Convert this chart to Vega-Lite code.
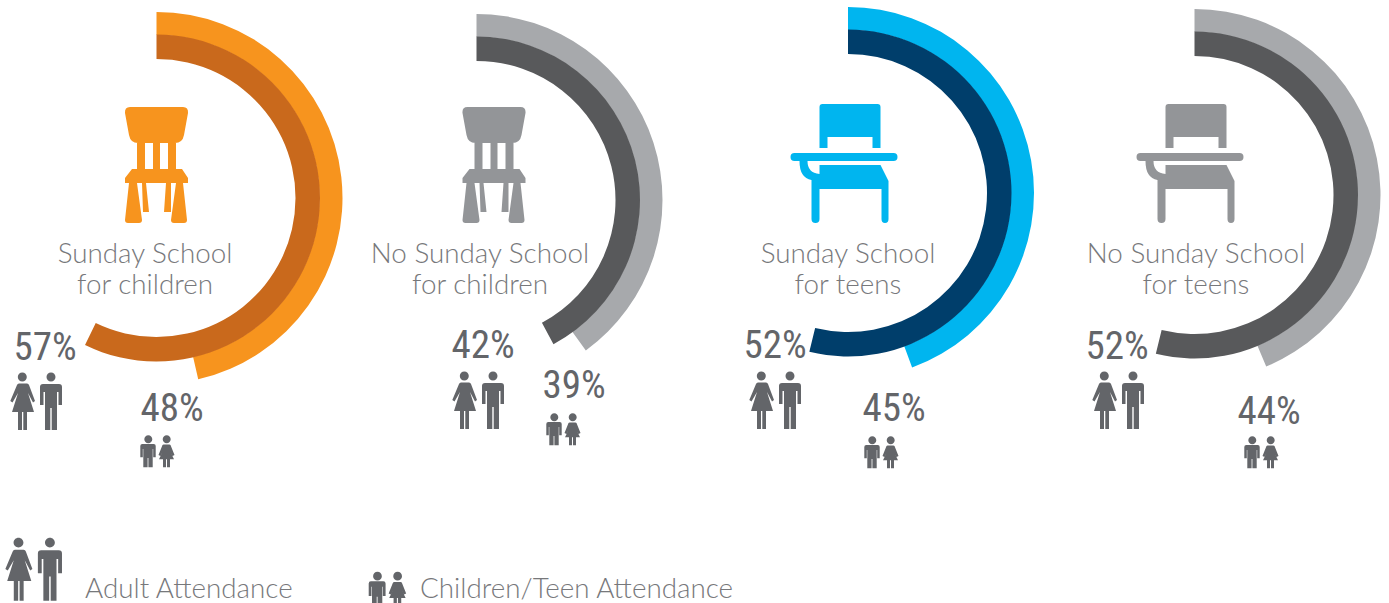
{
"$schema":"https://vega.github.io/schema/vega-lite/v6.json",
"width":1389,"height":603,"padding":0,"autosize":"none","background":"white",
"config":{"view":{"stroke":null}},
"datasets":{
"rings":[
{"panel":"Sunday School for children","idx":0,"series":"Adult","value":57.2,"key":"0A"},
{"panel":"Sunday School for children","idx":0,"series":"Child","value":46.4,"key":"0C"},
{"panel":"No Sunday School for children","idx":1,"series":"Adult","value":42.2,"key":"1A"},
{"panel":"No Sunday School for children","idx":1,"series":"Child","value":40,"key":"1C"},
{"panel":"Sunday School for teens","idx":2,"series":"Adult","value":53.8,"key":"2A"},
{"panel":"Sunday School for teens","idx":2,"series":"Child","value":44.4,"key":"2C"},
{"panel":"No Sunday School for teens","idx":3,"series":"Adult","value":53.8,"key":"3A"},
{"panel":"No Sunday School for teens","idx":3,"series":"Child","value":43.7,"key":"3C"}],
"labels":[
{"slot":0,"series":"Adult","label":"57%"},
{"slot":1,"series":"Child","label":"48%"},
{"slot":2,"series":"Adult","label":"42%"},
{"slot":3,"series":"Child","label":"39%"},
{"slot":4,"series":"Adult","label":"52%"},
{"slot":5,"series":"Child","label":"45%"},
{"slot":6,"series":"Adult","label":"52%"},
{"slot":7,"series":"Child","label":"44%"}],
"panels":[
{"idx":0,"title":"Sunday School\nfor children","icon":"chair","tone":"brand"},
{"idx":1,"title":"No Sunday School\nfor children","icon":"chair","tone":"grey"},
{"idx":2,"title":"Sunday School\nfor teens","icon":"desk","tone":"blue"},
{"idx":3,"title":"No Sunday School\nfor teens","icon":"desk","tone":"grey"}],
"legend":[
{"idx":0,"series":"Adult","label":"Adult Attendance"},
{"idx":1,"series":"Child","label":"Children/Teen Attendance"}]
},
"resolve":{"scale":{"x":"independent","y":"independent","color":"independent","shape":"independent","theta":"independent","size":"independent","radius":"independent"}},
"layer":[
{"data":{"name":"rings"},"transform":[{"filter":"datum.series==='Child'"}],
 "mark":{"type":"arc","innerRadius":163,"outerRadius":186},
 "encoding":{
  "x":{"field":"idx","type":"quantitative","axis":null,"scale":{"domain":[0,1,2,3],"range":[156.5,476.5,848,1194.5],"zero":false,"nice":false}},
  "y":{"field":"idx","type":"quantitative","axis":null,"scale":{"domain":[0,1,2,3],"range":[198,200,193,195],"zero":false,"nice":false}},
  "theta":{"field":"value","type":"quantitative","stack":null,"scale":{"domain":[0,100],"range":[0,6.28318]}},
  "theta2":{"datum":0},
  "color":{"field":"key","type":"nominal","legend":null,"scale":{"domain":["0C","1C","2C","3C"],"range":["#F7941E","#A7A9AC","#00B5EF","#A7A9AC"]}}
 }},
{"data":{"name":"rings"},"transform":[{"filter":"datum.series==='Adult'"}],
 "mark":{"type":"arc","innerRadius":139,"outerRadius":163.5},
 "encoding":{
  "x":{"field":"idx","type":"quantitative","axis":null,"scale":{"domain":[0,1,2,3],"range":[156.5,476.5,848,1194.5],"zero":false,"nice":false}},
  "y":{"field":"idx","type":"quantitative","axis":null,"scale":{"domain":[0,1,2,3],"range":[198,200,193,195],"zero":false,"nice":false}},
  "theta":{"field":"value","type":"quantitative","stack":null,"scale":{"domain":[0,100],"range":[0,6.28318]}},
  "theta2":{"datum":0},
  "color":{"field":"key","type":"nominal","legend":null,"scale":{"domain":["0A","1A","2A","3A"],"range":["#C9691C","#58595B","#003E6B","#58595B"]}}
 }},
{"data":{"name":"panels"},
 "mark":{"type":"text","font":"Lato","fontWeight":300,"fontSize":27.8,"lineBreak":"\n","lineHeight":31,"align":"center","baseline":"middle","color":"#77787B"},
 "encoding":{
  "x":{"field":"idx","type":"quantitative","axis":null,"scale":{"domain":[0,1,2,3],"range":[145,480,848,1196],"zero":false,"nice":false}},
  "y":{"field":"idx","type":"quantitative","axis":null,"scale":{"domain":[0,3],"range":[255,255],"zero":false,"nice":false}},
  "text":{"field":"title"}
 }},
{"data":{"name":"panels"},
 "mark":{"type":"point","filled":true,"opacity":1,"stroke":null},
 "encoding":{
  "x":{"field":"idx","type":"quantitative","axis":null,"scale":{"domain":[0,1,2,3],"range":[156,493.5,844.5,1190.5],"zero":false,"nice":false}},
  "y":{"field":"idx","type":"quantitative","axis":null,"scale":{"domain":[0,3],"range":[165,165],"zero":false,"nice":false}},
  "size":{"value":4},
  "shape":{"field":"icon","type":"nominal","legend":null,"scale":{"domain":["chair","desk"],"range":[
   "M-26,-58 L27,-58 Q32.5,-58 32,-52 L28,-30 Q26.5,-22 19,-22 L20,-22 L20,4 L26,4 L32,13 L32,18 L27,18 L31,55 Q31,58 28,58 L18,58 Q15,58 15,55 L20,18 L15,18 L15,47 L8,47 L10,18 L-10,18 L-7,47 L-13,47 L-14,18 L-19,18 L-14,55 Q-14,58 -17,58 L-28,58 Q-31,58 -31,55 L-27,18 L-31,18 L-31,13 L-24,4 L-19,4 L-19,-22 L-18,-22 Q-25.5,-22 -27,-30 L-31,-52 Q-31.5,-58 -26,-58 Z M-11,-22 L-11,4 L-3,4 L-3,-22 Z M4,-22 L4,4 L12,4 L12,-22 Z",
   "M-22,-61 L33,-61 Q36,-61 36,-58 L36,-17 L28,-17 L28,-28 L-17,-28 L-17,-17 L-25,-17 L-25,-58 Q-25,-61 -22,-61 Z M-50,-12 L49,-12 Q53,-12 53,-8 Q53,-4 49,-4 L-37,-4 Q-37,8 -25,9 L-25,0 L36,0 L44,16 L44,54 Q44,58 40.5,58 Q37,58 37,54 L37,24 L-25,24 L-25,54 Q-25,58 -29,58 Q-33,58 -33,54 L-33,15 Q-45,13 -45,-4 L-50,-4 Q-54,-4 -54,-8 Q-54,-12 -50,-12 Z"
  ]}},
  "color":{"field":"tone","type":"nominal","legend":null,"scale":{"domain":["brand","grey","blue"],"range":["#F7941E","#939598","#00B5EF"]}}
 }},
{"data":{"name":"labels"},
 "mark":{"type":"text","font":"Roboto Condensed, DejaVu Sans Condensed, DejaVu Sans","fontSize":39,"align":"center","baseline":"middle","color":"#636569"},
 "encoding":{
  "x":{"field":"slot","type":"quantitative","axis":null,"scale":{"domain":[0,1,2,3,4,5,6,7],"range":[45,172,483,574,775,894,1117,1269],"zero":false,"nice":false}},
  "y":{"field":"slot","type":"quantitative","axis":null,"scale":{"domain":[0,1,2,3,4,5,6,7],"range":[348,409,346,386,346,409,347,412],"zero":false,"nice":false}},
  "text":{"field":"label"}
 }},
{"data":{"name":"labels"},
 "mark":{"type":"point","filled":true,"opacity":1,"color":"#636569"},
 "encoding":{
  "x":{"field":"slot","type":"quantitative","axis":null,"scale":{"domain":[0,1,2,3,4,5,6,7],"range":[36,157,478,563,775,881,1118,1261],"zero":false,"nice":false}},
  "y":{"field":"slot","type":"quantitative","axis":null,"scale":{"domain":[0,1,2,3,4,5,6,7],"range":[402,451,401,429,401,452,401,452],"zero":false,"nice":false}},
  "size":{"value":4},
  "shape":{"field":"series","type":"nominal","legend":null,"scale":{"domain":["Adult","Child"],"range":[
   "M-18.2,-25 a4.5,4.5 0 1,0 9,0 a4.5,4.5 0 1,0 -9,0 Z M10.5,-25 a4.5,4.5 0 1,0 9,0 a4.5,4.5 0 1,0 -9,0 Z M-17,-18.5 L-9,-18.5 Q-7.5,-18.5 -7,-17 L-1,-1 L-3,0.5 L-8,-9 L-2,10 L-9,10 L-9,28 L-12.7,28 L-12.7,10 L-14,10 L-14,28 L-18,28 L-18,10 L-24,10 L-18,-9 L-23.5,0.5 L-25.7,-1 L-19,-17 Q-18.5,-18.5 -17,-18.5 Z M4,-15 Q4,-18 7,-18 L23,-18 Q26,-18 26,-15 L26,3 L22.5,3 L22.5,-10 L21,-10 L21,28 L15.7,28 L15.7,6 L14.3,6 L14.3,28 L9,28 L9,-10 L7.5,-10 L7.5,3 L4,3 Z",
   "M-12.7,-11.7 a4,4 0 1,0 8,0 a4,4 0 1,0 -8,0 Z M5.7,-11.7 a4,4 0 1,0 8,0 a4,4 0 1,0 -8,0 Z M-16.7,-5 Q-16.7,-7 -14.7,-7 L-3.3,-7 Q-1.3,-7 -1.3,-5 L-1.3,6.3 L-3.8,6.3 L-3.8,-2 L-4.3,-2 L-4.3,16.3 L-8.6,16.3 L-8.6,7 L-9.4,7 L-9.4,16.3 L-13.7,16.3 L-13.7,-2 L-14.2,-2 L-14.2,6.3 L-16.7,6.3 Z M6.5,-6.5 L12.5,-6.5 L13.5,-6 L17.5,4 L15.5,5 L13,0 L17,8.3 L13,8.3 L13,16.3 L10,16.3 L10,8.3 L9,8.3 L9,16.3 L6,16.3 L6,8.3 L2,8.3 L6,0 L3.5,5 L1.5,4 L5.5,-6 Z"
  ]}}
 }},
{"data":{"name":"legend"},
 "mark":{"type":"point","filled":true,"opacity":1,"color":"#636569"},
 "encoding":{
  "x":{"field":"idx","type":"quantitative","axis":null,"scale":{"domain":[0,1],"range":[33.5,387],"zero":false,"nice":false}},
  "y":{"field":"idx","type":"quantitative","axis":null,"scale":{"domain":[0,1],"range":[570,589],"zero":false,"nice":false}},
  "size":{"value":4.8},
  "shape":{"field":"series","type":"nominal","legend":null,"scale":{"domain":["Adult","Child"],"range":[
   "M-18.2,-25 a4.5,4.5 0 1,0 9,0 a4.5,4.5 0 1,0 -9,0 Z M10.5,-25 a4.5,4.5 0 1,0 9,0 a4.5,4.5 0 1,0 -9,0 Z M-17,-18.5 L-9,-18.5 Q-7.5,-18.5 -7,-17 L-1,-1 L-3,0.5 L-8,-9 L-2,10 L-9,10 L-9,28 L-12.7,28 L-12.7,10 L-14,10 L-14,28 L-18,28 L-18,10 L-24,10 L-18,-9 L-23.5,0.5 L-25.7,-1 L-19,-17 Q-18.5,-18.5 -17,-18.5 Z M4,-15 Q4,-18 7,-18 L23,-18 Q26,-18 26,-15 L26,3 L22.5,3 L22.5,-10 L21,-10 L21,28 L15.7,28 L15.7,6 L14.3,6 L14.3,28 L9,28 L9,-10 L7.5,-10 L7.5,3 L4,3 Z",
   "M-12.7,-11.7 a4,4 0 1,0 8,0 a4,4 0 1,0 -8,0 Z M5.7,-11.7 a4,4 0 1,0 8,0 a4,4 0 1,0 -8,0 Z M-16.7,-5 Q-16.7,-7 -14.7,-7 L-3.3,-7 Q-1.3,-7 -1.3,-5 L-1.3,6.3 L-3.8,6.3 L-3.8,-2 L-4.3,-2 L-4.3,16.3 L-8.6,16.3 L-8.6,7 L-9.4,7 L-9.4,16.3 L-13.7,16.3 L-13.7,-2 L-14.2,-2 L-14.2,6.3 L-16.7,6.3 Z M6.5,-6.5 L12.5,-6.5 L13.5,-6 L17.5,4 L15.5,5 L13,0 L17,8.3 L13,8.3 L13,16.3 L10,16.3 L10,8.3 L9,8.3 L9,16.3 L6,16.3 L6,8.3 L2,8.3 L6,0 L3.5,5 L1.5,4 L5.5,-6 Z"
  ]}}
 }},
{"data":{"name":"legend"},
 "mark":{"type":"text","font":"Lato","fontWeight":300,"fontSize":27.8,"align":"left","baseline":"middle","color":"#77787B"},
 "encoding":{
  "x":{"field":"idx","type":"quantitative","axis":null,"scale":{"domain":[0,1],"range":[85,420],"zero":false,"nice":false}},
  "y":{"field":"idx","type":"quantitative","axis":null,"scale":{"domain":[0,1],"range":[590,590],"zero":false,"nice":false}},
  "text":{"field":"label"}
 }}
]
}
